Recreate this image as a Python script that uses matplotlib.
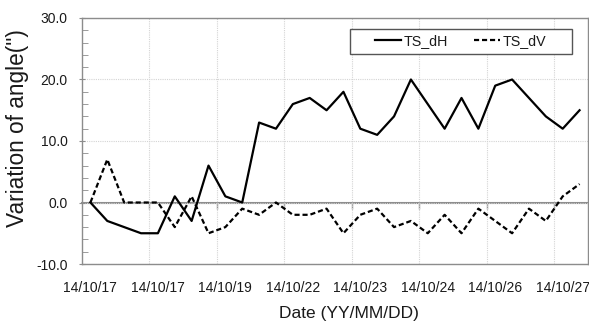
import numpy as np
import matplotlib
matplotlib.use("Agg")
import matplotlib.pyplot as plt
from matplotlib.path import Path
from matplotlib.ticker import MultipleLocator, FormatStrFormatter

plt.rcParams["font.family"] = ["Liberation Sans", "DejaVu Sans"]

# measured angle changes, one value per reading
ts_dh = [0, -3, -4, -5, -5, 1, -3, 6, 1, 0, 13, 12, 16, 17, 15, 18, 12, 11, 14, 20,
         16, 12, 17, 12, 19, 20, 17, 14, 12, 15]
ts_dv = [0, 7, 0, 0, 0, -4, 1, -5, -4, -1, -2, 0, -2, -2, -1, -5, -2, -1, -4, -3,
         -5, -2, -5, -1, -3, -5, -1, -3, 1, 3]
# date shown under every 4th reading
date_labels = ["14/10/17", "14/10/17", "14/10/19", "14/10/22",
               "14/10/23", "14/10/24", "14/10/26", "14/10/27"]
label_step = 4

grey = "#8c8c8c"
txt = "#1a1a1a"

fig = plt.figure(figsize=(5.89, 3.27), dpi=100)
ax = fig.add_axes([82 / 589, 63 / 327, 506 / 589, 246 / 327])

x = np.arange(len(ts_dh))
ax.plot(x, ts_dh, color="black", lw=1.6, label="TS_dH")
ax.plot(x, ts_dv, color="black", lw=1.6, dashes=(2.3, 1.3), label="TS_dV")

ax.set_xlim(-0.5, len(ts_dh) - 0.5)
ax.set_ylim(-10, 30)

# category labels sit on the reading, grid/ticks on the group boundaries
ax.set_xticks(x[::label_step])
ax.set_xticklabels(date_labels)
ax.set_xticks(np.arange(label_step - 0.5, len(ts_dh) - 0.5, label_step), minor=True)
ax.tick_params(axis="x", which="major", length=0, pad=12, labelsize=10, labelcolor=txt)
ax.tick_params(axis="x", which="minor", length=0)
ax.grid(axis="x", which="minor", color="#d4d4d4", lw=0.8, ls=(0, (1, 1)))

ax.yaxis.set_major_locator(MultipleLocator(10))
ax.yaxis.set_minor_locator(MultipleLocator(2))
ax.yaxis.set_major_formatter(FormatStrFormatter("%.1f"))
ax.tick_params(axis="y", which="major", direction="inout", length=5, color=grey,
               labelsize=10, labelcolor=txt, pad=8)
ax.tick_params(axis="y", which="minor", direction="in", length=4, color=grey)
ax.grid(axis="y", which="major", color="#d4d4d4", lw=0.8, ls=(0, (1, 1)))
ax.set_axisbelow(True)

for s in ax.spines.values():
    s.set_color(grey)
    s.set_linewidth(1.0)

# horizontal axis line through zero with small boundary ticks
zero_frac = (0 - ax.get_ylim()[0]) / (ax.get_ylim()[1] - ax.get_ylim()[0])
sec = ax.secondary_xaxis(zero_frac)
sec.set_xticks(np.arange(label_step - 0.5, len(ts_dh) - 0.5, label_step))
sec.tick_params(axis="x", direction="out", length=4, color=grey, labelbottom=False,
                labeltop=False, width=1.0)
sec.spines["bottom"].set_color(grey)
sec.spines["bottom"].set_linewidth(1.5)
sec.spines["top"].set_visible(False)

ax.set_xlabel("Date (YY/MM/DD)", fontsize=12.5, color=txt)
ax.xaxis.set_label_coords(0.527, -0.17)
ax.set_ylabel('Variation of angle(")', fontsize=16.3, color=txt)
ax.yaxis.set_label_coords(-0.105, 0.553)


def wide_box(x0, y0, width, height, mutation_size):
    px = 1.4 * mutation_size
    verts = [(x0 - px, y0), (x0 + width + px, y0), (x0 + width + px, y0 + height),
             (x0 - px, y0 + height), (x0 - px, y0)]
    return Path(verts, closed=True)


leg = ax.legend(ncol=2, loc="upper right", bbox_to_anchor=(0.928, 0.955),
                borderaxespad=0, fontsize=10.3, handlelength=1.8, handletextpad=0.2,
                columnspacing=1.8, fancybox=False, framealpha=1, borderpad=0.38)
leg.get_frame().set_edgecolor("#555555")
leg.get_frame().set_linewidth(1.0)
leg.get_frame().set_boxstyle(wide_box)
for t in leg.get_texts():
    t.set_color(txt)

fig.savefig("out.png", dpi=100)
